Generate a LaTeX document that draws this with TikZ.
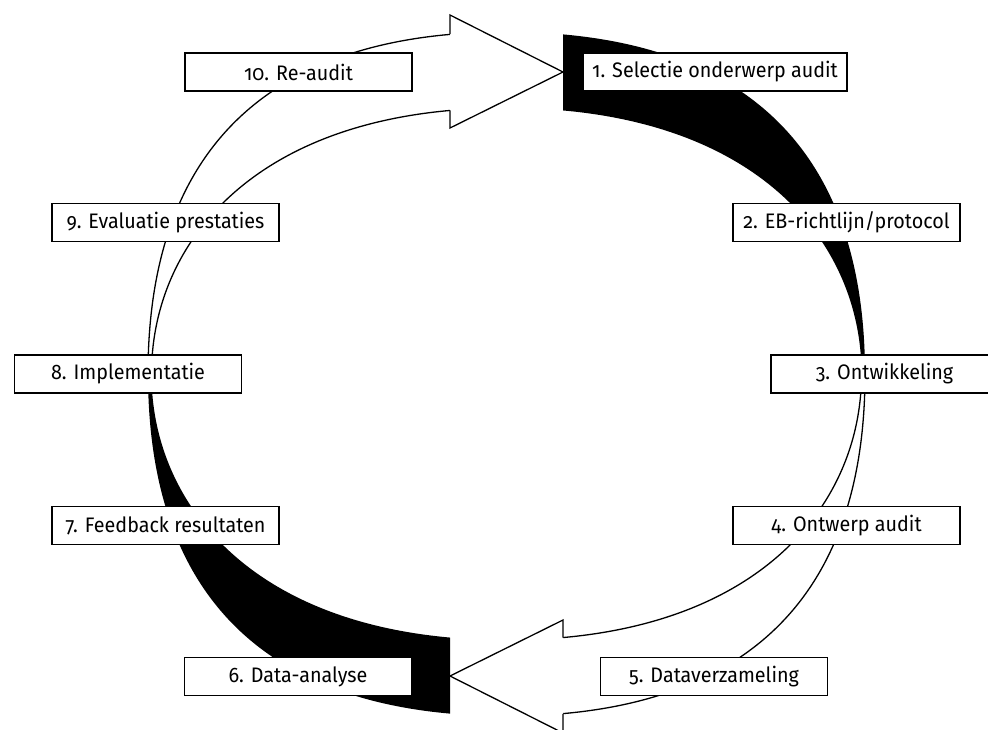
\documentclass[tikz,border=0pt]{standalone}
\usepackage{fontspec}
\setmainfont{Fira Sans}[Numbers=OldStyle, FakeStretch=0.94]
\begin{document}
\begin{tikzpicture}[x=1pt, y=-1pt, line width=1.3pt,
  stage/.style={draw=black, fill=white, line width=1.2pt, inner sep=0pt, outer sep=0pt,
    minimum width=227pt, minimum height=38pt, align=center,
    font=\fontsize{21}{24}\selectfont},
  band/.style={draw=black, fill=white, line width=1.3pt, line join=miter}]
\useasboundingbox (0,0) rectangle (988,729);
\clip (0,0) rectangle (988,729);

% one half of the cycle: black crescent on the right, white arrow on the left
\newcommand{\cyclehalf}{%
  \begin{scope}
    \clip (563,0) rectangle (1000,374);
    \fill[black] (506.5,32) .. controls (743.1,32) and (865,148.3) .. (865,374)
      -- (861.5,374) .. controls (861.5,241) and (755,108) .. (506.5,108) -- cycle;
  \end{scope}
  \begin{scope}
    \clip (0,0) rectangle (450,374);
    \path[band] (506.5,32) .. controls (269.9,32) and (148,148.3) .. (148,374)
      -- (151.5,374) .. controls (151.5,241) and (258,108) .. (506.5,108) -- cycle;
  \end{scope}
  \path[band] (450,34.2) -- (450,15) -- (563,72) -- (450,128) -- (450,110.4);
}

\cyclehalf
\begin{scope}[rotate around={180:(506.5,374)}]
  \cyclehalf
\end{scope}

% stages of the audit cycle
\node[stage, minimum width=264pt] (s1)  at (715,72)     {1. Selectie onderwerp audit};
\node[stage] (s2)  at (846.5,222.5) {2. EB-richtlijn/protocol};
\node[stage] (s3)  at (884.5,374)   {3. Ontwikkeling};
\node[stage] (s4)  at (846.5,525.5) {4. Ontwerp audit};
\node[stage] (s5)  at (714,676.5)   {5. Dataverzameling};
\node[stage] (s6)  at (298,676.5)   {6. Data-analyse};
\node[stage] (s7)  at (165.5,525.5) {7. Feedback resultaten};
\node[stage] (s8)  at (128,374)     {8. Implementatie};
\node[stage] (s9)  at (165.5,222.5) {9. Evaluatie prestaties};
\node[stage] (s10) at (298.5,72)    {10. Re-audit};
\end{tikzpicture}
\end{document}
